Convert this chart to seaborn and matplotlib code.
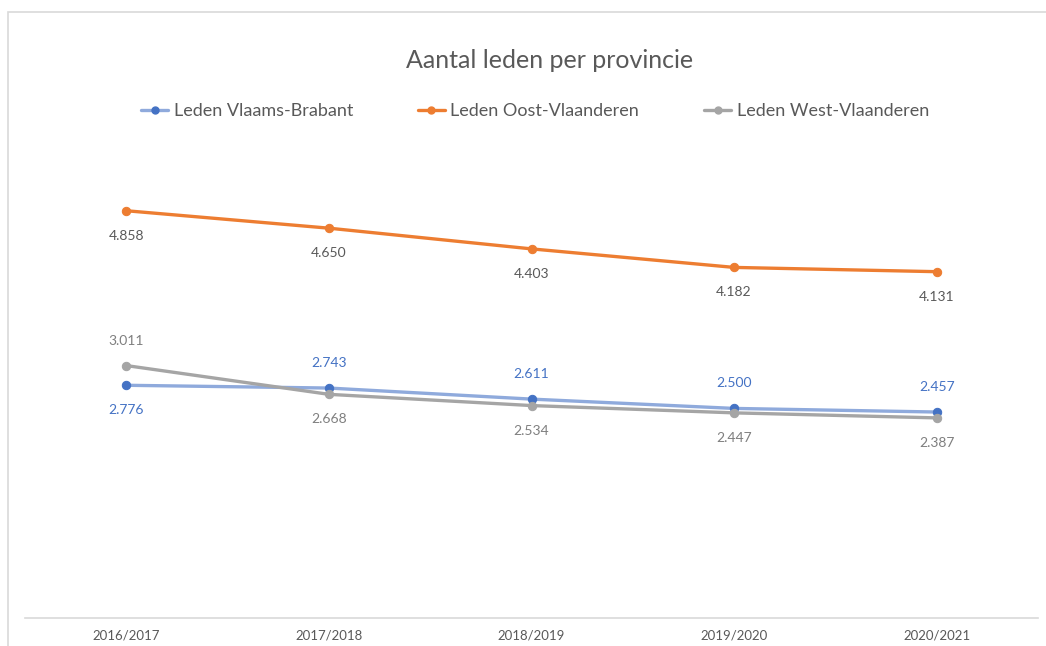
import pandas as pd
import matplotlib.pyplot as plt
import seaborn as sns
from matplotlib.patches import Rectangle
from matplotlib.lines import Line2D

# data
seasons = ["2016/2017", "2017/2018", "2018/2019", "2019/2020", "2020/2021"]
vlaams_brabant = [2776, 2743, 2611, 2500, 2457]
oost_vlaanderen = [4858, 4650, 4403, 4182, 4131]
west_vlaanderen = [3011, 2668, 2534, 2447, 2387]

series = [
    ("Leden Vlaams-Brabant", vlaams_brabant, "#8FAADC", "#4472C4", "#4472C4"),
    ("Leden Oost-Vlaanderen", oost_vlaanderen, "#ED7D31", "#ED7D31", "#595959"),
    ("Leden West-Vlaanderen", west_vlaanderen, "#A5A5A5", "#A5A5A5", "#7F7F7F"),
]

# label above (+1) or below (-1) the point
label_side = {
    "Leden Vlaams-Brabant": [-1, 1, 1, 1, 1],
    "Leden Oost-Vlaanderen": [-1, -1, -1, -1, -1],
    "Leden West-Vlaanderen": [1, -1, -1, -1, -1],
}

sns.set_style("white")
plt.rcParams["font.family"] = ["Lato", "DejaVu Sans"]

fig = plt.figure(figsize=(10.46, 6.46), dpi=100)
ax = fig.add_axes([25 / 1046, 28 / 646, 1013 / 1046, 503 / 646])

x = list(range(len(seasons)))
handles = []
for name, values, line_col, mark_col, text_col in series:
    df = pd.DataFrame({"x": x, "y": values})
    sns.lineplot(data=df, x="x", y="y", ax=ax, color=line_col, linewidth=2.4,
                 marker="o", markersize=6, markerfacecolor=mark_col,
                 markeredgecolor=mark_col, zorder=3)
    for xi, v, side in zip(x, values, label_side[name]):
        ax.annotate(f"{v / 1000:.3f}", (xi, v), xytext=(0, 25 * side),
                    textcoords="offset pixels",
                    ha="center", va="center", fontsize=10, color=text_col)
    handles.append(Line2D([], [], color=line_col, linewidth=2.4, marker="o",
                          markersize=5, markerfacecolor=mark_col,
                          markeredgecolor=mark_col, label=name))

ax.set_xlim(-0.5, 4.5)
ax.set_ylim(0, 6000)
ax.set_xticks(x)
ax.set_xticklabels(seasons, fontsize=9.5, color="#595959")
ax.set_yticks([])
ax.set_xlabel("")
ax.set_ylabel("")
ax.tick_params(axis="x", length=0, pad=8)
for side in ["top", "right", "left"]:
    ax.spines[side].set_visible(False)
ax.spines["bottom"].set_color("#D9D9D9")
ax.spines["bottom"].set_linewidth(1.2)

fig.text(550 / 1046, 1 - 60 / 646, "Aantal leden per provincie", ha="center",
         va="center", fontsize=18, color="#595959")

fig.legend(handles=handles, loc="center", bbox_to_anchor=(535 / 1046, 1 - 111 / 646),
           ncol=3, frameon=False, fontsize=13, labelcolor="#595959",
           handlelength=1.5, handletextpad=0.3, columnspacing=3.6)

# light chart border
fig.patches.append(Rectangle((8 / 1046, -0.05), 1.1, 1 - 12 / 646 + 0.05,
                             transform=fig.transFigure, fill=False,
                             edgecolor="#D9D9D9", linewidth=1.2))

plt.savefig("out.png", dpi=100)
plt.close()
